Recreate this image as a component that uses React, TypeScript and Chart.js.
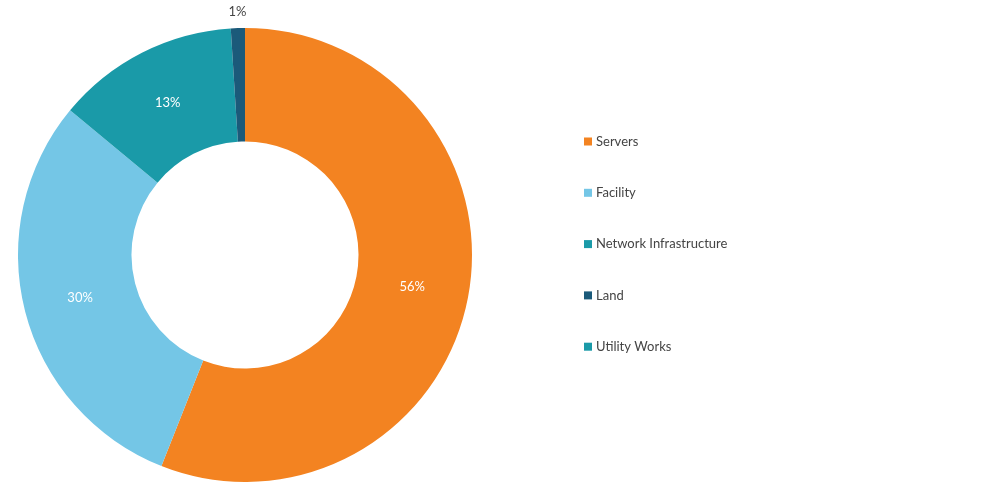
import React, { useEffect, useRef } from "react";
import { Chart, registerables } from "chart.js";

Chart.register(...registerables);

const categories = ["Servers", "Facility", "Network Infrastructure", "Land", "Utility Works"];
const shares = [56, 30, 13, 1, 0];
const colors = ["#F38321", "#74C6E6", "#1A9AA8", "#1B5A7A", "#1A9AA8"];

const FONT = "Lato, 'Open Sans', sans-serif";

const labelPlugin = {
  id: "sliceLabels",
  afterDatasetsDraw(chart: any) {
    const ctx = chart.ctx;
    const meta = chart.getDatasetMeta(0);
    ctx.save();
    ctx.font = `13px ${FONT}`;
    ctx.textAlign = "center";
    ctx.textBaseline = "middle";
    meta.data.forEach((arc: any, i: number) => {
      const v = shares[i];
      if (!v) return;
      const p = arc.getProps(["x", "y", "startAngle", "endAngle", "innerRadius", "outerRadius"], true);
      const mid = (p.startAngle + p.endAngle) / 2;
      let r = (p.innerRadius + p.outerRadius) / 2;
      let color = "#ffffff";
      if (v < 3) {
        r = p.outerRadius + 16;
        color = "#444444";
      }
      ctx.fillStyle = color;
      ctx.fillText(`${v}%`, p.x + Math.cos(mid) * r, p.y + Math.sin(mid) * r);
    });
    ctx.restore();
  },
};

const legendPlugin = {
  id: "sideLegend",
  afterDraw(chart: any) {
    const ctx = chart.ctx;
    ctx.save();
    ctx.font = `13px ${FONT}`;
    ctx.textBaseline = "middle";
    ctx.textAlign = "left";
    const x0 = 584;
    const y0 = 141.5;
    const step = 51.3;
    chart.data.labels.forEach((lab: string, i: number) => {
      const y = y0 + i * step;
      ctx.fillStyle = colors[i];
      ctx.fillRect(x0, y - 4, 8, 8);
      ctx.fillStyle = "#444444";
      ctx.fillText(lab, x0 + 12, y);
    });
    ctx.restore();
  },
};

export default function App() {
  const ref = useRef<HTMLCanvasElement | null>(null);
  useEffect(() => {
    if (!ref.current) return;
    const chart = new Chart(ref.current, {
      type: "doughnut",
      data: {
        labels: categories,
        datasets: [
          {
            data: shares,
            backgroundColor: colors,
            borderWidth: 0,
          },
        ],
      },
      options: {
        responsive: false,
        animation: false,
        cutout: "50%",
        layout: { padding: { left: 18, right: 528, top: 28, bottom: 18 } },
        plugins: {
          legend: { display: false },
          tooltip: { enabled: false },
        },
      },
      plugins: [labelPlugin, legendPlugin],
    });
    return () => chart.destroy();
  }, []);
  return (
    <div style={{ position: "fixed", left: 0, top: 0, width: 1000, height: 500, background: "#fff" }}>
      <canvas ref={ref} width={1000} height={500} style={{ display: "block" }} />
    </div>
  );
}
